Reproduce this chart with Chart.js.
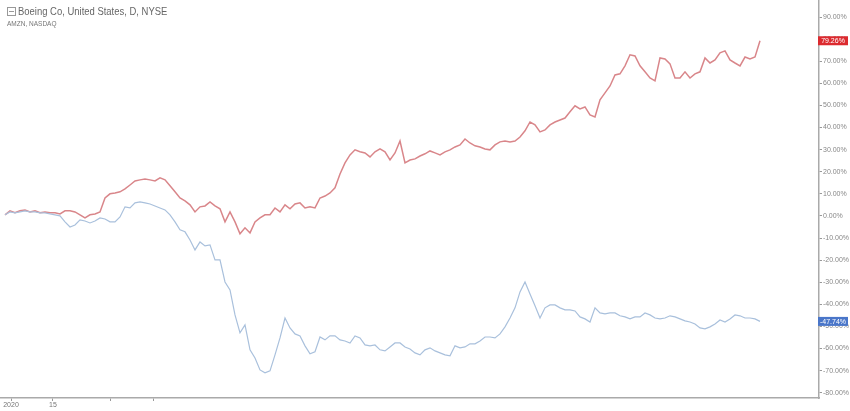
<!DOCTYPE html>
<html>
<head>
<meta charset="utf-8">
<script src="https://cdn.jsdelivr.net/npm/chart.js@4/dist/chart.umd.min.js"></script>
<style>
  html, body { margin: 0; padding: 0; background: #fff; }
  #wrap { position: relative; width: 850px; height: 411px; overflow: hidden; }
  #c { position: absolute; left: 0; top: 0; }
  .title { position: absolute; left: 18px; top: 5px; font: 11px "Liberation Sans", sans-serif; color: #666; white-space: nowrap; transform: scaleX(0.86); transform-origin: 0 0; }
  .icon { position: absolute; left: 7px; top: 7px; width: 7px; height: 7px; border: 1px solid #999; }
  .icon:after { content: ""; position: absolute; left: 1px; right: 1px; top: 3px; height: 1px; background: #999; }
  .sub { position: absolute; left: 7px; top: 20px; font: 6.5px "Liberation Sans", sans-serif; color: #777; white-space: nowrap; }
</style>
</head>
<body>
<div id="wrap">
  <canvas id="c" width="850" height="411"></canvas>
  <div class="icon"></div>
  <div class="title">Boeing Co, United States, D, NYSE</div>
  <div class="sub">AMZN, NASDAQ</div>
</div>
<script>
// % change since 2 Jan 2020, daily closes
const amzn = [
  0.5, 2.3, 1.4, 2.3, 2.7, 1.8, 2.3, 1.4, 1.8, 1.4, 1.4, 0.9, 2.3, 2.3, 1.8, 0.5, -0.9, 0.5, 0.9, 1.8,
  8.1, 10.0, 10.4, 10.9, 12.2, 14.0, 15.8, 16.3, 16.7, 16.3, 15.8, 17.2, 16.3, 13.6, 10.9, 8.1, 6.8, 5.0, 1.8, 4.1,
  4.5, 6.3, 4.5, 3.2, -2.7, 1.8, -2.7, -8.1, -5.4, -7.7, -2.7, -0.9, 0.5, 0.5, 3.6, 1.8, 5.0, 3.2, 5.4, 5.9,
  3.6, 4.1, 3.6, 8.1, 9.0, 10.4, 12.7, 19.0, 24.0, 27.6, 29.9, 29.0, 28.5, 26.7, 29.0, 30.3, 29.0, 25.3, 28.5, 33.9,
  24.0, 25.3, 25.8, 27.1, 28.1, 29.4, 28.5, 27.6, 29.0, 29.9, 31.2, 32.1, 34.8, 33.0, 31.7, 31.2, 30.3, 29.9, 32.1, 33.5,
  33.9, 33.5, 33.9, 35.7, 38.5, 42.5, 41.2, 38.0, 38.9, 41.2, 42.5, 43.4, 44.3, 47.1, 49.8, 48.4, 49.3, 45.7, 44.8, 52.5,
  55.7, 58.8, 63.8, 64.3, 67.9, 72.9, 72.4, 67.9, 65.2, 62.4, 61.1, 71.5, 71.0, 68.8, 62.4, 62.4, 65.2, 62.4, 64.3, 65.2,
  71.5, 69.2, 70.6, 73.8, 74.7, 70.6, 69.2, 67.9, 71.9, 71.0, 71.9, 79.26
];
const boeing = [
  0.5, 1.8, 1.4, 1.8, 2.3, 1.8, 1.8, 1.4, 1.4, 0.9, 0.5, 0, -2.7, -5.0, -4.1, -1.8, -2.3, -3.2, -2.3, -0.9,
  -1.4, -2.7, -2.7, -0.5, 4.1, 3.6, 5.9, 6.3, 5.9, 5.4, 4.5, 3.6, 2.7, 0.5, -2.7, -6.3, -7.2, -10.9, -15.4, -11.8,
  -13.6, -13.1, -19.9, -19.9, -29.9, -33.5, -44.8, -52.9, -49.3, -60.6, -64.3, -69.7, -71.0, -70.1, -62.9, -55.2, -46.2, -50.7, -53.4, -54.3,
  -58.8, -62.4, -61.5, -54.8, -56.1, -54.3, -54.3, -56.1, -56.6, -57.5, -54.3, -55.2, -58.4, -58.8, -58.4, -60.6, -61.1, -59.3, -57.5, -57.5,
  -59.3, -60.2, -62.0, -62.9, -60.6, -59.7, -61.1, -62.0, -62.9, -63.3, -58.8, -59.7, -59.3, -57.9, -57.9, -56.6, -54.8, -54.8, -55.2, -53.4,
  -50.2, -46.2, -41.6, -34.4, -29.9, -35.3, -40.7, -46.2, -41.6, -40.3, -40.3, -41.6, -42.5, -42.5, -43.0, -45.7, -46.6, -48.0, -41.6, -43.9,
  -44.3, -43.9, -43.9, -45.2, -45.7, -46.6, -45.7, -45.7, -43.9, -44.8, -46.2, -46.6, -46.2, -45.2, -45.7, -46.6, -47.5, -48.0, -48.9, -50.7,
  -51.1, -50.2, -48.9, -47.1, -48.0, -46.6, -44.8, -45.2, -46.2, -46.2, -46.6, -47.74
];
const yTicks = [90, 80, 70, 60, 50, 40, 30, 20, 10, 0, -10, -20, -30, -40, -50, -60, -70, -80];
const xTickPos = [1.2, 9.6, 21, 29.6];
const xTickText = ['2020', '15', '', ''];

const RED = '#d9868a', BLUE = '#a9c0dc';

const lastValueTags = {
    id: 'lastValueTags',
    afterDraw(chart) {
        const c = chart.ctx;
        const y = chart.scales.y;
        const tags = [
            { v: amzn[amzn.length - 1], bg: '#dc2a2f' },
            { v: boeing[boeing.length - 1], bg: '#4a76c9' }
        ];
        c.save();
        tags.forEach(t => {
            const py = y.getPixelForValue(t.v);
            c.fillStyle = t.bg;
            c.fillRect(818, py - 4.5, 30, 9);
            c.fillStyle = '#fff';
            c.font = '7px "Liberation Sans", sans-serif';
            c.textBaseline = 'middle';
            c.textAlign = 'center';
            c.fillText(t.v.toFixed(2) + '%', 833, py + 0.5);
        });
        c.restore();
    }
};

new Chart(document.getElementById('c'), {
    type: 'line',
    data: {
        labels: amzn.map((_, i) => i),
        datasets: [
            { data: boeing, borderColor: BLUE, borderWidth: 1.2, pointRadius: 0, tension: 0 },
            { data: amzn, borderColor: RED, borderWidth: 1.5, pointRadius: 0, tension: 0 }
        ]
    },
    options: {
        responsive: false,
        animation: false,
        layout: { padding: 0 },
        plugins: { legend: { display: false }, tooltip: { enabled: false } },
        scales: {
            x: {
                type: 'linear', min: -1, max: 162.8,
                afterBuildTicks: s => { s.ticks = xTickPos.map(v => ({ value: v })); },
                afterFit: s => { s.height = 13; s.paddingLeft = 0; s.paddingRight = 0; },
                ticks: {
                    autoSkip: false, maxRotation: 0, padding: 0,
                    font: { size: 7, family: 'Liberation Sans' }, color: '#777',
                    callback: (v, i) => xTickText[i]
                },
                grid: { drawOnChartArea: false, tickLength: 3, color: '#999' },
                border: { display: true, color: '#aaa', width: 1.5 }
            },
            y: {
                position: 'right', min: -82.4, max: 97.7,
                afterBuildTicks: s => { s.ticks = yTicks.map(v => ({ value: v })); },
                afterFit: s => { s.width = 31; s.paddingTop = 0; s.paddingBottom = 0; },
                ticks: {
                    padding: 1,
                    font: { size: 7, family: 'Liberation Sans' }, color: '#888',
                    callback: v => v.toFixed(2) + '%'
                },
                grid: { drawOnChartArea: false, tickLength: 3, color: '#999' },
                border: { display: true, color: '#aaa', width: 1.5 }
            }
        }
    },
    plugins: [lastValueTags]
});
</script>
</body>
</html>
